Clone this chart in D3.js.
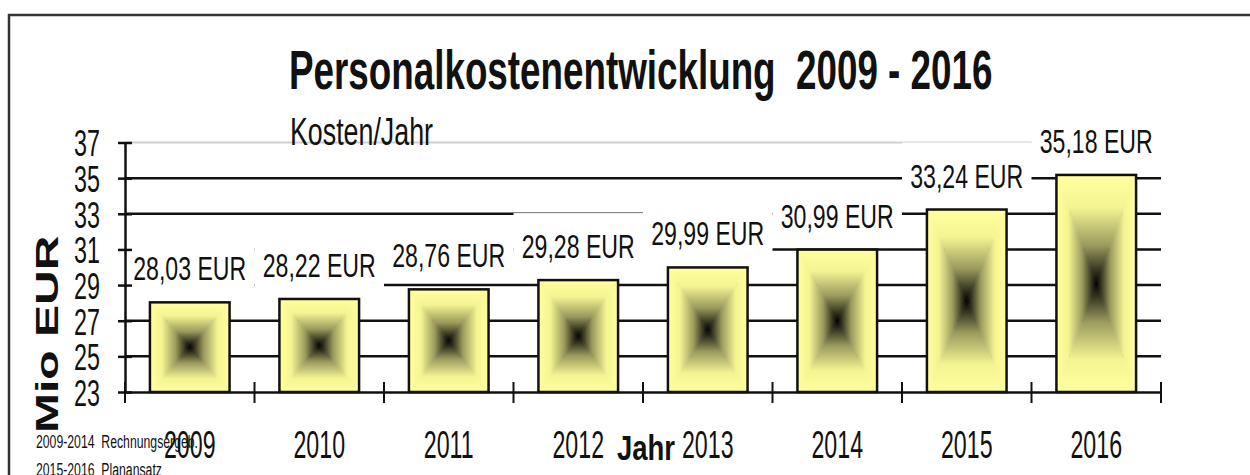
<!DOCTYPE html>
<html>
<head>
<meta charset="utf-8">
<script src="https://cdn.jsdelivr.net/npm/d3@7"></script>
<style>
  body { margin: 0; background: #fff; }
  svg text { font-family: "Liberation Sans", Arial, sans-serif; fill: #111; white-space: pre; }
</style>
</head>
<body>
<div id="chart"></div>
<script>
var years = ["2009", "2010", "2011", "2012", "2013", "2014", "2015", "2016"];
var costs = [28.03, 28.22, 28.76, 29.28, 29.99, 30.99, 33.24, 35.18];
var yTicks = [23, 25, 27, 29, 31, 33, 35, 37];
var footnotes = ["2009-2014  Rechnungsergeb.", "2015-2016  Planansatz"];

var width = 1250, height = 475;

var svg = d3.select("#chart").append("svg")
  .attr("width", width)
  .attr("height", height);

// squeeze text horizontally by factor k (the source font is very condensed)
function squeeze(sel, k) {
  sel.each(function() {
    var w = this.getComputedTextLength();
    d3.select(this).attr("textLength", w * k).attr("lengthAdjust", "spacingAndGlyphs");
  });
}

// frame (only top and left are visible)
svg.append("path")
  .attr("d", "M9,475V15H1250")
  .attr("fill", "none")
  .attr("stroke", "#333")
  .attr("stroke-width", 2.5);

var x = d3.scaleBand().domain(years).range([125, 1161])
  .paddingInner(0.385).paddingOuter(0.1925);
var y = d3.scaleLinear().domain([23, 37]).range([392, 142.5]);

// gradient: dark centre, pale yellow edges (four triangles per bar)
var defs = svg.append("defs");
var gradDirs = {
  top: [0, 0, 0, 1], bottom: [0, 1, 0, 0],
  left: [0, 0, 1, 0], right: [1, 0, 0, 0]
};
Object.keys(gradDirs).forEach(function(k) {
  var d = gradDirs[k];
  var g = defs.append("linearGradient").attr("id", "g-" + k)
    .attr("x1", d[0]).attr("y1", d[1]).attr("x2", d[2]).attr("y2", d[3]);
  g.append("stop").attr("offset", 0).attr("stop-color", "#ffff9c");
  g.append("stop").attr("offset", 0.3).attr("stop-color", "#f4f493");
  g.append("stop").attr("offset", 0.65).attr("stop-color", "#9a9a5e");
  g.append("stop").attr("offset", 1).attr("stop-color", "#000000");
});

// gridlines
svg.append("g").selectAll("line")
  .data(yTicks.slice(1))
  .enter().append("line")
  .attr("x1", 125).attr("x2", 1161)
  .attr("y1", function(d) { return y(d); })
  .attr("y2", function(d) { return y(d); })
  .attr("stroke", function(d) { return d == 37 ? "#cfcfcf" : "#111"; })
  .attr("stroke-width", function(d) { return d == 37 ? 2 : 2.5; });

// white label boxes hide the gridlines behind the value labels
svg.append("g").selectAll("rect")
  .data(costs)
  .enter().append("rect")
  .attr("x", function(d, i) { return x(years[i]) - x.step() * x.paddingInner() / 2; })
  .attr("width", x.step())
  .attr("y", function(d) { return y(d) - 22 - 45; })
  .attr("height", 55)
  .attr("fill", "#fff");

// bars
var bars = svg.append("g").selectAll("g")
  .data(costs)
  .enter().append("g");

bars.each(function(d, i) {
  var g = d3.select(this);
  var x0 = x(years[i]), x1 = x0 + x.bandwidth();
  var y0 = y(d), y1 = y(23);
  var cx = (x0 + x1) / 2, cy = (y0 + y1) / 2;
  var tris = {
    top: [[x0, y0], [x1, y0], [cx, cy]],
    bottom: [[x0, y1], [x1, y1], [cx, cy]],
    left: [[x0, y0], [x0, y1], [cx, cy]],
    right: [[x1, y0], [x1, y1], [cx, cy]]
  };
  Object.keys(tris).forEach(function(k) {
    g.append("path")
      .attr("d", "M" + tris[k].join("L") + "Z")
      .attr("fill", "url(#g-" + k + ")")
      .attr("stroke", "url(#g-" + k + ")")
      .attr("stroke-width", 0.6);
  });
  g.append("rect")
    .attr("x", x0).attr("y", y0)
    .attr("width", x.bandwidth()).attr("height", y1 - y0)
    .attr("fill", "none").attr("stroke", "#111").attr("stroke-width", 2.5);
});

// value labels
var labels = svg.append("g").selectAll("text")
  .data(costs)
  .enter().append("text")
  .attr("x", function(d, i) { return x(years[i]) + x.bandwidth() / 2; })
  .attr("y", function(d) { return y(d) - 22; })
  .attr("text-anchor", "middle")
  .style("font-size", "33px")
  .text(function(d) { return d.toFixed(2).replace(".", ",") + " EUR"; });
squeeze(labels, 0.70);

// y axis
var yAxis = svg.append("g")
  .attr("transform", "translate(125,0)")
  .call(d3.axisLeft(y).tickValues(yTicks).tickSizeInner(7).tickSizeOuter(0).tickPadding(18));
yAxis.select(".domain").attr("stroke", "#111").attr("stroke-width", 2.5);
yAxis.selectAll(".tick line").attr("x1", 7).attr("stroke", "#111").attr("stroke-width", 2.5);
yAxis.selectAll(".tick text")
  .attr("dy", "0.36em")
  .style("font-size", "37px")
  .style("font-family", "'Liberation Sans', Arial, sans-serif")
  .attr("fill", "#111");
squeeze(yAxis.selectAll(".tick text"), 0.63);

// x axis: labels centred on bands, ticks on band borders
var xAxis = svg.append("g")
  .attr("transform", "translate(0,392)")
  .call(d3.axisBottom(x).tickSize(0).tickPadding(38).tickSizeOuter(0));
xAxis.select(".domain").attr("stroke", "#111").attr("stroke-width", 2.5);
xAxis.selectAll(".tick text")
  .style("font-size", "39px")
  .style("font-family", "'Liberation Sans', Arial, sans-serif")
  .attr("fill", "#111");
squeeze(xAxis.selectAll(".tick text"), 0.595);

var borders = years.map(function(c) { return x(c) - x.step() * x.paddingInner() / 2; });
borders.push(borders[borders.length - 1] + x.step());
xAxis.selectAll(".border")
  .data(borders)
  .enter().append("line")
  .attr("class", "border")
  .attr("x1", function(d) { return d; }).attr("x2", function(d) { return d; })
  .attr("y1", -10).attr("y2", 11)
  .attr("stroke", "#111").attr("stroke-width", 2);

// titles
var title = svg.append("text")
  .attr("x", 289).attr("y", 89)
  .style("font-size", "56px").style("font-weight", "bold")
  .text("Personalkostenentwicklung  2009 - 2016");
squeeze(title, 0.657);

var sub = svg.append("text")
  .attr("x", 290).attr("y", 145)
  .style("font-size", "38px")
  .text("Kosten/Jahr");
squeeze(sub, 0.705);

var yTitle = svg.append("text")
  .attr("transform", "translate(58,433) rotate(-90)")
  .style("font-size", "32px").style("font-weight", "bold")
  .text("Mio EUR");
squeeze(yTitle, 1.5);

var xTitle = svg.append("text")
  .attr("x", 617).attr("y", 460)
  .style("font-size", "35px").style("font-weight", "bold")
  .text("Jahr");
squeeze(xTitle, 0.785);

// footnotes
var notes = svg.append("g").selectAll("text")
  .data(footnotes)
  .enter().append("text")
  .attr("x", 36)
  .attr("y", function(d, i) { return 448 + i * 28; })
  .style("font-size", "18px")
  .text(function(d) { return d; });
squeeze(notes, 0.68);
</script>
</body>
</html>
